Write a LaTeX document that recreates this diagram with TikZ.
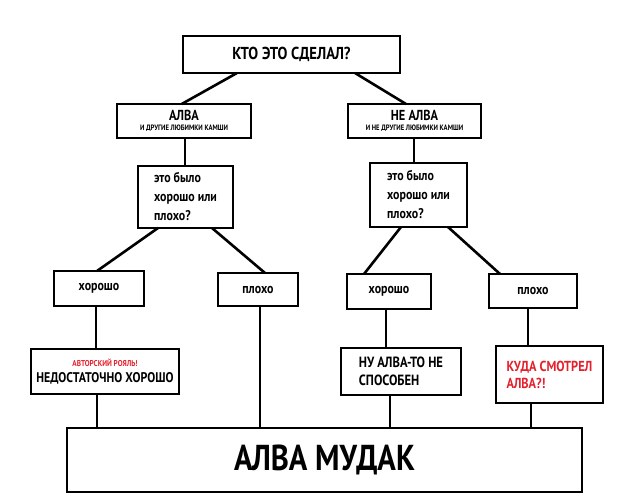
\documentclass[tikz,border=0pt]{standalone}
\usepackage{fontspec}
\setmainfont{PT Sans}[FakeStretch=0.85]
\definecolor{alvared}{RGB}{228,32,44}
\begin{document}
\begin{tikzpicture}[x=1pt,y=-1pt,
  box/.style={draw,line width=2.6pt,rectangle,inner sep=0pt,outer sep=0pt,font=\bfseries\fontsize{14}{19}\selectfont},
  link/.style={line width=2.6pt}]
\useasboundingbox[fill=white] (0,0) rectangle (640,501);
\node[box,minimum width=217,minimum height=37,font=\bfseries\fontsize{17.3}{19}\selectfont] (top) at (291.5,54.5) {КТО ЭТО СДЕЛАЛ?};
\node[box,minimum width=134,minimum height=34,align=center,font=\bfseries\fontsize{14.5}{12}\selectfont] (alva) at (184,121) {АЛВА\\[-1.5pt]{\fontsize{7.8}{8}\selectfont И ДРУГИЕ ЛЮБИМКИ КАМШИ}};
\node[box,minimum width=133,minimum height=34,align=center,font=\bfseries\fontsize{14.5}{12}\selectfont] (nealva) at (414.5,121) {НЕ АЛВА\\[-1.5pt]{\fontsize{7.8}{8}\selectfont И НЕ ДРУГИЕ ЛЮБИМКИ КАМШИ}};
\node[box,minimum width=95,minimum height=62,align=left] (q1) at (185.5,197) {это было\\хорошо или\\плохо?};
\node[box,minimum width=97,minimum height=64,align=left] (q2) at (418.5,195) {это было\\хорошо или\\плохо?};
\node[box,minimum width=90,minimum height=35] (h1) at (99,288.5) {хорошо};
\node[box,minimum width=80,minimum height=33] (p1) at (258,289.5) {плохо};
\node[box,minimum width=84,minimum height=35] (h2) at (389,291.5) {хорошо};
\node[box,minimum width=88,minimum height=34] (p2) at (533,291) {плохо};
\node[box,minimum width=148,minimum height=45,align=center,font=\bfseries\fontsize{14}{16}\selectfont] (nd) at (105,371.5) {{\color{alvared}\fontsize{8.5}{9}\selectfont АВТОРСКИЙ РОЯЛЬ!}\\НЕДОСТАТОЧНО ХОРОШО};
\node[box,minimum width=120,minimum height=47,align=left,font=\bfseries\fontsize{14.8}{18}\selectfont] (nu) at (401,371.5) {НУ АЛВА-ТО НЕ\\СПОСОБЕН};
\node[box,minimum width=107,minimum height=57,align=left,text=alvared,font=\bfseries\fontsize{14.5}{17}\selectfont] (kuda) at (549.5,374.5) {КУДА СМОТРЕЛ\\АЛВА?!};
\node[box,minimum width=515,minimum height=64,font=\bfseries\fontsize{36}{38}\selectfont] (big) at (324.5,460) {\raisebox{3pt}{АЛВА МУДАК}};
% connectors
\draw[link] ([xshift=-54.5pt]top.south) -- ([xshift=-2.3pt]alva.north);
\draw[link] ([xshift=63.5pt]top.south) -- ([xshift=-8.5pt]nealva.north);
\draw[link] ([xshift=1pt]alva.south) -- ([xshift=-0.5pt]q1.north);
\draw[link] ([xshift=-0.5pt]nealva.south) -- ([xshift=-4.5pt]q2.north);
\draw[link] ([xshift=-27.5pt]q1.south) -- ([xshift=-2pt]h1.north);
\draw[link] ([xshift=26.5pt]q1.south) -- ([xshift=7pt]p1.north);
\draw[link] ([xshift=-17.5pt]q2.south) -- ([xshift=-25pt]h2.north);
\draw[link] ([xshift=29.5pt]q2.south) -- ([xshift=-33pt]p2.north);
\draw[link] ([xshift=-3pt]h1.south) -- ([xshift=-9pt]nd.north);
\draw[link] ([xshift=-8pt]nd.south) -- ([xshift=-227.5pt]big.north);
\draw[link] ([xshift=2pt]p1.south) -- ([xshift=-64.5pt]big.north);
\draw[link] ([xshift=-3pt]h2.south) -- ([xshift=-15pt]nu.north);
\draw[link] ([xshift=-11pt]nu.south) -- ([xshift=65.5pt]big.north);
\draw[link] ([xshift=-5pt]p2.south) -- ([xshift=-21.5pt]kuda.north);
\draw[link] ([xshift=-18.5pt]kuda.south) -- ([xshift=206.5pt]big.north);
\end{tikzpicture}
\end{document}
